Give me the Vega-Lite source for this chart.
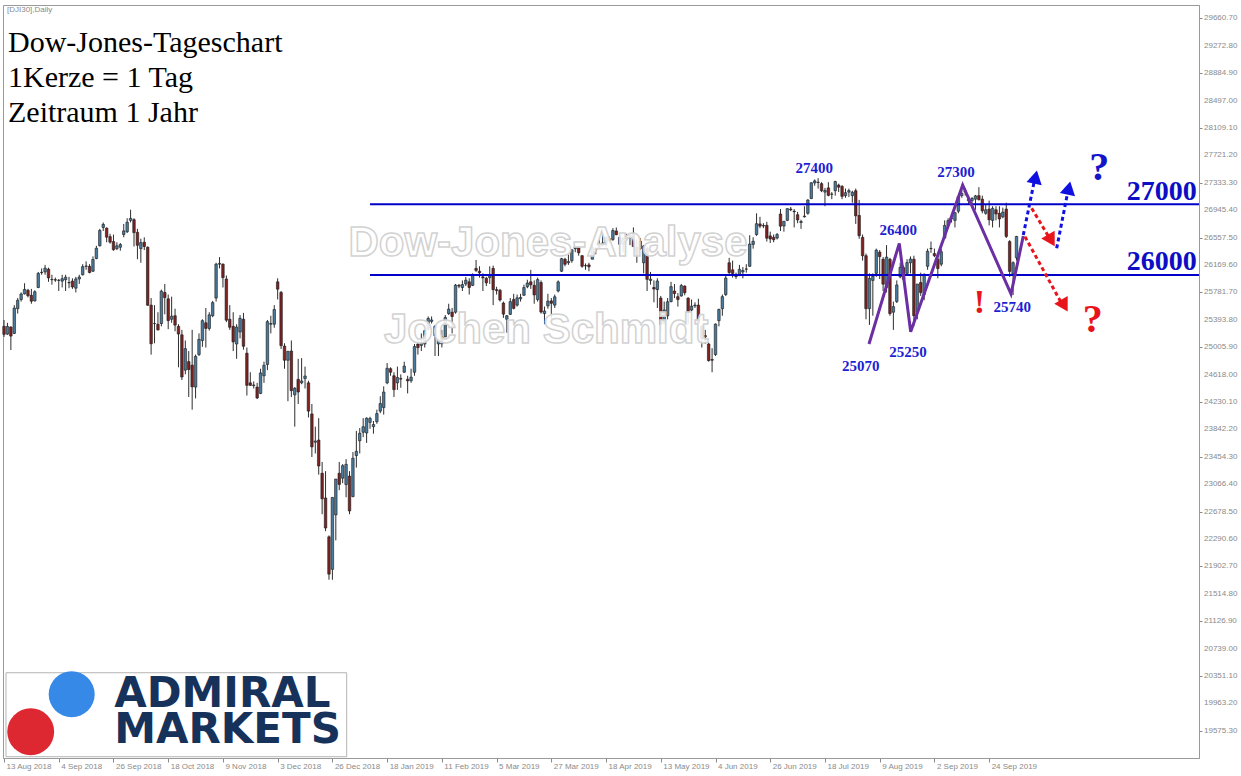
{
"$schema":"https://vega.github.io/schema/vega-lite/v6.json",
"width":1196,"height":753,
"autosize":{"type":"none"},
"padding":{"left":3,"top":5,"right":42,"bottom":18},
"background":"white",
"config":{"view":{"stroke":"#9a9a9a"},"axisX":{"labelOverlap":false},"scale":{"continuousPadding":0}},
"datasets":{
"candles":[
{"i":0,"o":25300,"h":25390,"l":25150,"c":25187},{"i":1,"o":25190,"h":25350,"l":25180,"c":25299},{"i":2,"o":25290,"h":25300,"l":24965,"c":25162},{"i":3,"o":25200,"h":25600,"l":25190,"c":25558},{"i":4,"o":25550,"h":25700,"l":25480,"c":25669},{"i":5,"o":25680,"h":25780,"l":25650,"c":25758},{"i":6,"o":25760,"h":25910,"l":25750,"c":25822},{"i":7,"o":25810,"h":25830,"l":25710,"c":25733},{"i":8,"o":25740,"h":25830,"l":25620,"c":25656},{"i":9,"o":25660,"h":25810,"l":25650,"c":25790},
{"i":10,"o":25850,"h":26070,"l":25840,"c":26049},{"i":11,"o":26060,"h":26120,"l":26030,"c":26064},{"i":12,"o":26070,"h":26170,"l":26030,"c":26124},{"i":13,"o":26110,"h":26130,"l":25930,"c":25986},{"i":14,"o":25960,"h":26030,"l":25890,"c":25964},{"i":15,"o":25960,"h":25990,"l":25930,"c":25955},{"i":16,"o":25950,"h":25970,"l":25800,"c":25952},{"i":17,"o":25940,"h":26030,"l":25850,"c":25974},{"i":18,"o":25960,"h":26030,"l":25800,"c":25995},{"i":19,"o":25920,"h":26000,"l":25840,"c":25916},
{"i":20,"o":25940,"h":25980,"l":25830,"c":25857},{"i":21,"o":25840,"h":26000,"l":25780,"c":25971},{"i":22,"o":25970,"h":26030,"l":25900,"c":25998},{"i":23,"o":26030,"h":26180,"l":26020,"c":26145},{"i":24,"o":26150,"h":26220,"l":26100,"c":26154},{"i":25,"o":26150,"h":26180,"l":26050,"c":26062},{"i":26,"o":26080,"h":26290,"l":26070,"c":26246},{"i":27,"o":26260,"h":26440,"l":26250,"c":26405},{"i":28,"o":26440,"h":26680,"l":26430,"c":26657},{"i":29,"o":26700,"h":26770,"l":26650,"c":26743},
{"i":30,"o":26690,"h":26700,"l":26490,"c":26562},{"i":31,"o":26570,"h":26610,"l":26470,"c":26492},{"i":32,"o":26500,"h":26600,"l":26370,"c":26385},{"i":33,"o":26400,"h":26490,"l":26380,"c":26440},{"i":34,"o":26420,"h":26480,"l":26370,"c":26458},{"i":35,"o":26600,"h":26750,"l":26560,"c":26651},{"i":36,"o":26640,"h":26830,"l":26620,"c":26774},{"i":37,"o":26800,"h":26951,"l":26770,"c":26828},{"i":38,"o":26810,"h":26830,"l":26430,"c":26627},{"i":39,"o":26630,"h":26680,"l":26250,"c":26447},
{"i":40,"o":26400,"h":26540,"l":26200,"c":26486},{"i":41,"o":26490,"h":26560,"l":26380,"c":26430},{"i":42,"o":26420,"h":26430,"l":25590,"c":25599},{"i":43,"o":25600,"h":25700,"l":24899,"c":25053},{"i":44,"o":25340,"h":25600,"l":25060,"c":25340},{"i":45,"o":25330,"h":25500,"l":25240,"c":25250},{"i":46,"o":25340,"h":25820,"l":25300,"c":25798},{"i":47,"o":25780,"h":25900,"l":25470,"c":25706},{"i":48,"o":25690,"h":25750,"l":25260,"c":25380},{"i":49,"o":25400,"h":25720,"l":25350,"c":25444},
{"i":50,"o":25450,"h":25550,"l":25230,"c":25317},{"i":51,"o":25300,"h":25330,"l":24720,"c":25191},{"i":52,"o":25180,"h":25250,"l":24540,"c":24583},{"i":53,"o":24680,"h":25100,"l":24620,"c":24984},{"i":54,"o":24800,"h":24950,"l":24300,"c":24688},{"i":55,"o":24750,"h":25250,"l":24120,"c":24443},{"i":56,"o":24440,"h":24900,"l":24280,"c":24875},{"i":57,"o":24900,"h":25200,"l":24880,"c":25116},{"i":58,"o":25100,"h":25400,"l":25010,"c":25380},{"i":59,"o":25350,"h":25560,"l":25000,"c":25271},
{"i":60,"o":25270,"h":25500,"l":25240,"c":25462},{"i":61,"o":25450,"h":25660,"l":25430,"c":25636},{"i":62,"o":25700,"h":26200,"l":25650,"c":26180},{"i":63,"o":26180,"h":26280,"l":26120,"c":26191},{"i":64,"o":26180,"h":26190,"l":25850,"c":25989},{"i":65,"o":25970,"h":26020,"l":25360,"c":25387},{"i":66,"o":25400,"h":25600,"l":25250,"c":25287},{"i":67,"o":25300,"h":25500,"l":24950,"c":25080},{"i":68,"o":25050,"h":25330,"l":24840,"c":25290},{"i":69,"o":25220,"h":25460,"l":25130,"c":25414},
{"i":70,"o":25400,"h":25490,"l":24970,"c":25018},{"i":71,"o":24920,"h":25000,"l":24320,"c":24465},{"i":72,"o":24500,"h":24650,"l":24460,"c":24464},{"i":73,"o":24460,"h":24520,"l":24420,"c":24470},{"i":74,"o":24440,"h":24500,"l":24270,"c":24286},{"i":75,"o":24350,"h":24700,"l":24340,"c":24640},{"i":76,"o":24600,"h":24800,"l":24500,"c":24749},{"i":77,"o":24760,"h":25390,"l":24680,"c":25366},{"i":78,"o":25330,"h":25450,"l":25200,"c":25339},{"i":79,"o":25330,"h":25600,"l":25280,"c":25538},
{"i":80,"o":25930,"h":25980,"l":25680,"c":25826},{"i":81,"o":25780,"h":25800,"l":24980,"c":25027},{"i":82,"o":25020,"h":25060,"l":24700,"c":24820},{"i":83,"o":24820,"h":24950,"l":24240,"c":24947},{"i":84,"o":24950,"h":25100,"l":24300,"c":24389},{"i":85,"o":24330,"h":24440,"l":23880,"c":24423},{"i":86,"o":24550,"h":24840,"l":24200,"c":24370},{"i":87,"o":24500,"h":24850,"l":24480,"c":24527},{"i":88,"o":24560,"h":24730,"l":24420,"c":24597},{"i":89,"o":24500,"h":24530,"l":24010,"c":24100},
{"i":90,"o":24060,"h":24200,"l":23450,"c":23593},{"i":91,"o":23660,"h":23880,"l":23500,"c":23676},{"i":92,"o":23690,"h":24000,"l":23200,"c":23323},{"i":93,"o":23220,"h":23380,"l":22640,"c":22859},{"i":94,"o":22870,"h":23250,"l":22400,"c":22445},{"i":95,"o":22320,"h":22340,"l":21713,"c":21792},{"i":96,"o":21860,"h":22880,"l":21712,"c":22878},{"i":97,"o":22630,"h":23140,"l":22270,"c":23138},{"i":98,"o":23220,"h":23380,"l":22980,"c":23062},{"i":99,"o":23150,"h":23350,"l":23080,"c":23327},
{"i":100,"o":23060,"h":23420,"l":22880,"c":23346},{"i":101,"o":23180,"h":23250,"l":22640,"c":22686},{"i":102,"o":22890,"h":23520,"l":22880,"c":23433},{"i":103,"o":23470,"h":23820,"l":23300,"c":23531},{"i":104,"o":23680,"h":23860,"l":23500,"c":23787},{"i":105,"o":23800,"h":24000,"l":23730,"c":23879},{"i":106,"o":23790,"h":24010,"l":23650,"c":24001},{"i":107,"o":23940,"h":24020,"l":23850,"c":23996},{"i":108,"o":23880,"h":23960,"l":23780,"c":23910},{"i":109,"o":23950,"h":24120,"l":23920,"c":24065},
{"i":110,"o":24100,"h":24310,"l":24070,"c":24207},{"i":111,"o":24150,"h":24450,"l":24050,"c":24370},{"i":112,"o":24500,"h":24780,"l":24480,"c":24706},{"i":113,"o":24700,"h":24720,"l":24600,"c":24650},{"i":114,"o":24600,"h":24650,"l":24300,"c":24404},{"i":115,"o":24500,"h":24730,"l":24400,"c":24575},{"i":116,"o":24560,"h":24620,"l":24430,"c":24553},{"i":117,"o":24650,"h":24800,"l":24640,"c":24737},{"i":118,"o":24550,"h":24600,"l":24350,"c":24528},{"i":119,"o":24530,"h":24700,"l":24500,"c":24580},
{"i":120,"o":24650,"h":25050,"l":24600,"c":25014},{"i":121,"o":25050,"h":25120,"l":24900,"c":24999},{"i":122,"o":25030,"h":25200,"l":24950,"c":25064},{"i":123,"o":25050,"h":25250,"l":25000,"c":25239},{"i":124,"o":25260,"h":25440,"l":25240,"c":25411},{"i":125,"o":25370,"h":25440,"l":25340,"c":25390},{"i":126,"o":25300,"h":25320,"l":24880,"c":25169},{"i":127,"o":25050,"h":25120,"l":24880,"c":25106},{"i":128,"o":25150,"h":25250,"l":25000,"c":25053},{"i":129,"o":25150,"h":25460,"l":25150,"c":25425},
{"i":130,"o":25480,"h":25620,"l":25460,"c":25543},{"i":131,"o":25500,"h":25560,"l":25200,"c":25439},{"i":132,"o":25500,"h":25900,"l":25480,"c":25883},{"i":133,"o":25880,"h":25900,"l":25840,"c":25870},{"i":134,"o":25850,"h":25950,"l":25800,"c":25891},{"i":135,"o":25900,"h":26000,"l":25870,"c":25954},{"i":136,"o":25930,"h":25980,"l":25750,"c":25850},{"i":137,"o":25880,"h":26050,"l":25870,"c":26031},{"i":138,"o":26120,"h":26240,"l":26070,"c":26092},{"i":139,"o":26080,"h":26150,"l":25990,"c":26057},
{"i":140,"o":26000,"h":26050,"l":25800,"c":25986},{"i":141,"o":25980,"h":26000,"l":25870,"c":25916},{"i":142,"o":25990,"h":26150,"l":25900,"c":26026},{"i":143,"o":26120,"h":26160,"l":25600,"c":25819},{"i":144,"o":25820,"h":25860,"l":25750,"c":25806},{"i":145,"o":25810,"h":25830,"l":25650,"c":25673},{"i":146,"o":25630,"h":25650,"l":25420,"c":25473},{"i":147,"o":25400,"h":25460,"l":25210,"c":25450},{"i":148,"o":25470,"h":25700,"l":25460,"c":25650},{"i":149,"o":25680,"h":25760,"l":25540,"c":25554},
{"i":150,"o":25600,"h":25750,"l":25580,"c":25703},{"i":151,"o":25690,"h":25760,"l":25650,"c":25709},{"i":152,"o":25740,"h":25890,"l":25730,"c":25849},{"i":153,"o":25860,"h":25960,"l":25840,"c":25914},{"i":154,"o":25930,"h":26100,"l":25830,"c":25887},{"i":155,"o":25880,"h":25950,"l":25620,"c":25745},{"i":156,"o":25680,"h":25990,"l":25650,"c":25962},{"i":157,"o":25920,"h":25950,"l":25480,"c":25502},{"i":158,"o":25480,"h":25580,"l":25330,"c":25516},{"i":159,"o":25590,"h":25760,"l":25550,"c":25657},
{"i":160,"o":25660,"h":25700,"l":25400,"c":25626},{"i":161,"o":25600,"h":25750,"l":25560,"c":25718},{"i":162,"o":25800,"h":25950,"l":25780,"c":25929},{"i":163,"o":26080,"h":26270,"l":26070,"c":26258},{"i":164,"o":26250,"h":26270,"l":26150,"c":26179},{"i":165,"o":26200,"h":26320,"l":26170,"c":26218},{"i":166,"o":26230,"h":26390,"l":26200,"c":26385},{"i":167,"o":26400,"h":26440,"l":26350,"c":26425},{"i":168,"o":26410,"h":26430,"l":26300,"c":26341},{"i":169,"o":26300,"h":26310,"l":26130,"c":26150},
{"i":170,"o":26160,"h":26190,"l":26100,"c":26157},{"i":171,"o":26170,"h":26200,"l":26080,"c":26143},{"i":172,"o":26250,"h":26460,"l":26250,"c":26412},{"i":173,"o":26400,"h":26420,"l":26320,"c":26384},{"i":174,"o":26420,"h":26530,"l":26400,"c":26453},{"i":175,"o":26480,"h":26600,"l":26430,"c":26449},{"i":176,"o":26480,"h":26580,"l":26420,"c":26559},{"i":177,"o":26540,"h":26570,"l":26480,"c":26511},{"i":178,"o":26530,"h":26690,"l":26510,"c":26656},{"i":179,"o":26650,"h":26700,"l":26590,"c":26597},
{"i":180,"o":26560,"h":26570,"l":26300,"c":26462},{"i":181,"o":26460,"h":26560,"l":26350,"c":26543},{"i":182,"o":26560,"h":26610,"l":26520,"c":26554},{"i":183,"o":26550,"h":26620,"l":26450,"c":26593},{"i":184,"o":26620,"h":26700,"l":26420,"c":26430},{"i":185,"o":26420,"h":26530,"l":26200,"c":26308},{"i":186,"o":26400,"h":26550,"l":26380,"c":26505},{"i":187,"o":26200,"h":26450,"l":26050,"c":26438},{"i":188,"o":26400,"h":26430,"l":25800,"c":25965},{"i":189,"o":25950,"h":26070,"l":25890,"c":25968},
{"i":190,"o":25850,"h":25950,"l":25640,"c":25828},{"i":191,"o":25820,"h":25980,"l":25560,"c":25942},{"i":192,"o":25700,"h":25730,"l":25220,"c":25325},{"i":193,"o":25350,"h":25650,"l":25330,"c":25532},{"i":194,"o":25450,"h":25700,"l":25400,"c":25648},{"i":195,"o":25650,"h":25930,"l":25640,"c":25862},{"i":196,"o":25800,"h":25900,"l":25700,"c":25764},{"i":197,"o":25720,"h":25770,"l":25580,"c":25680},{"i":198,"o":25730,"h":25900,"l":25720,"c":25877},{"i":199,"o":25870,"h":25880,"l":25740,"c":25776},
{"i":200,"o":25700,"h":25710,"l":25330,"c":25490},{"i":201,"o":25530,"h":25680,"l":25510,"c":25586},{"i":202,"o":25590,"h":25640,"l":25560,"c":25600},{"i":203,"o":25600,"h":25690,"l":25340,"c":25347},{"i":204,"o":25300,"h":25320,"l":25000,"c":25126},{"i":205,"o":25150,"h":25250,"l":25050,"c":25169},{"i":206,"o":25050,"h":25070,"l":24800,"c":24815},{"i":207,"o":24830,"h":24990,"l":24650,"c":24820},{"i":208,"o":24900,"h":25340,"l":24880,"c":25332},{"i":209,"o":25380,"h":25550,"l":25300,"c":25539},
{"i":210,"o":25550,"h":25750,"l":25450,"c":25720},{"i":211,"o":25750,"h":26030,"l":25730,"c":25984},{"i":212,"o":26200,"h":26270,"l":26040,"c":26062},{"i":213,"o":26100,"h":26230,"l":25990,"c":26048},{"i":214,"o":26030,"h":26060,"l":25970,"c":26005},{"i":215,"o":26030,"h":26170,"l":26010,"c":26107},{"i":216,"o":26070,"h":26140,"l":25980,"c":26090},{"i":217,"o":26110,"h":26180,"l":26060,"c":26112},{"i":218,"o":26150,"h":26590,"l":26140,"c":26465},{"i":219,"o":26460,"h":26560,"l":26400,"c":26504},
{"i":220,"o":26600,"h":26900,"l":26580,"c":26753},{"i":221,"o":26750,"h":26850,"l":26690,"c":26719},{"i":222,"o":26720,"h":26760,"l":26690,"c":26727},{"i":223,"o":26730,"h":26780,"l":26500,"c":26548},{"i":224,"o":26580,"h":26640,"l":26480,"c":26536},{"i":225,"o":26560,"h":26600,"l":26490,"c":26526},{"i":226,"o":26550,"h":26620,"l":26530,"c":26600},{"i":227,"o":26890,"h":26960,"l":26650,"c":26718},{"i":228,"o":26720,"h":26790,"l":26640,"c":26787},{"i":229,"o":26800,"h":26970,"l":26790,"c":26966},
{"i":230,"o":26960,"h":26990,"l":26930,"c":26950},{"i":231,"o":26930,"h":26960,"l":26700,"c":26922},{"i":232,"o":26880,"h":26920,"l":26760,"c":26806},{"i":233,"o":26770,"h":26810,"l":26680,"c":26784},{"i":234,"o":26850,"h":27000,"l":26840,"c":26860},{"i":235,"o":26900,"h":27100,"l":26880,"c":27088},{"i":236,"o":27110,"h":27340,"l":27100,"c":27332},{"i":237,"o":27330,"h":27380,"l":27290,"c":27359},{"i":238,"o":27340,"h":27398,"l":27250,"c":27336},{"i":239,"o":27320,"h":27340,"l":27200,"c":27220},
{"i":240,"o":27200,"h":27260,"l":27000,"c":27223},{"i":241,"o":27260,"h":27340,"l":27140,"c":27154},{"i":242,"o":27170,"h":27200,"l":27100,"c":27172},{"i":243,"o":27220,"h":27360,"l":27150,"c":27350},{"i":244,"o":27300,"h":27320,"l":27200,"c":27270},{"i":245,"o":27280,"h":27300,"l":27100,"c":27140},{"i":246,"o":27150,"h":27250,"l":27120,"c":27192},{"i":247,"o":27200,"h":27250,"l":27130,"c":27221},{"i":248,"o":27150,"h":27220,"l":27050,"c":27198},{"i":249,"o":27220,"h":27250,"l":26750,"c":26864},
{"i":250,"o":26870,"h":27090,"l":26540,"c":26583},{"i":251,"o":26560,"h":26600,"l":26230,"c":26300},{"i":252,"o":26300,"h":26330,"l":25400,"c":25550},{"i":253,"o":25550,"h":26050,"l":25320,"c":25980},{"i":254,"o":25950,"h":26050,"l":25450,"c":26008},{"i":255,"o":26050,"h":26400,"l":26000,"c":26379},{"i":256,"o":26350,"h":26380,"l":25970,"c":26287},{"i":257,"o":26250,"h":26280,"l":25800,"c":25897},{"i":258,"o":25850,"h":26450,"l":25780,"c":26280},{"i":259,"o":26250,"h":26270,"l":25450,"c":25480},
{"i":260,"o":25500,"h":25650,"l":25250,"c":25579},{"i":261,"o":25650,"h":25950,"l":25630,"c":25886},{"i":262,"o":26000,"h":26200,"l":25980,"c":26136},{"i":263,"o":26130,"h":26160,"l":25950,"c":25962},{"i":264,"o":26050,"h":26250,"l":26030,"c":26202},{"i":265,"o":26200,"h":26290,"l":26050,"c":26253},{"i":266,"o":26250,"h":26300,"l":25300,"c":25450},{"i":267,"o":25500,"h":25900,"l":25400,"c":25899},{"i":268,"o":25920,"h":26060,"l":25730,"c":25778},{"i":269,"o":25750,"h":26050,"l":25670,"c":26036},
{"i":270,"o":26150,"h":26400,"l":26100,"c":26363},{"i":271,"o":26400,"h":26500,"l":26340,"c":26403},{"i":272,"o":26330,"h":26400,"l":26280,"c":26300},{"i":273,"o":26250,"h":26300,"l":25980,"c":26118},{"i":274,"o":26180,"h":26400,"l":26150,"c":26356},{"i":275,"o":26550,"h":26800,"l":26540,"c":26728},{"i":276,"o":26730,"h":26830,"l":26700,"c":26797},{"i":277,"o":26820,"h":26900,"l":26770,"c":26835},{"i":278,"o":26800,"h":26920,"l":26700,"c":26909},{"i":279,"o":26930,"h":27140,"l":26900,"c":27137},
{"i":280,"o":27150,"h":27306,"l":27120,"c":27182},{"i":281,"o":27200,"h":27250,"l":27150,"c":27220},{"i":282,"o":27100,"h":27150,"l":27020,"c":27076},{"i":283,"o":27080,"h":27130,"l":27000,"c":27111},{"i":284,"o":27100,"h":27160,"l":26950,"c":27147},{"i":285,"o":27150,"h":27270,"l":27080,"c":27094},{"i":286,"o":27100,"h":27150,"l":26900,"c":26935},{"i":287,"o":26900,"h":27030,"l":26880,"c":26950},{"i":288,"o":26960,"h":27080,"l":26730,"c":26808},{"i":289,"o":26800,"h":27000,"l":26700,"c":26970},
{"i":290,"o":26950,"h":27000,"l":26800,"c":26891},{"i":291,"o":26900,"h":27000,"l":26700,"c":26820},{"i":292,"o":26850,"h":26980,"l":26830,"c":26917},{"i":293,"o":26960,"h":27050,"l":26550,"c":26573},{"i":294,"o":26500,"h":26520,"l":26000,"c":26078},{"i":295,"o":26040,"h":26220,"l":25743,"c":26201},{"i":296,"o":26270,"h":26580,"l":26230,"c":26573}
],
"yLabels":[{"i":349.35,"v":19575.3},{"i":349.35,"v":19963.2},{"i":349.35,"v":20351.1},{"i":349.35,"v":20739.0},{"i":349.35,"v":21126.9},{"i":349.35,"v":21514.8},{"i":349.35,"v":21902.7},{"i":349.35,"v":22290.6},{"i":349.35,"v":22678.5},{"i":349.35,"v":23066.4},{"i":349.35,"v":23454.3},{"i":349.35,"v":23842.2},{"i":349.35,"v":24230.1},{"i":349.35,"v":24618.0},{"i":349.35,"v":25005.9},{"i":349.35,"v":25393.8},{"i":349.35,"v":25781.7},{"i":349.35,"v":26169.6},{"i":349.35,"v":26557.5},{"i":349.35,"v":26945.4},{"i":349.35,"v":27333.3},{"i":349.35,"v":27721.2},{"i":349.35,"v":28109.1},{"i":349.35,"v":28497.0},{"i":349.35,"v":28884.9},{"i":349.35,"v":29272.8},{"i":349.35,"v":29660.7}],
"levels":[{"i":107,"i2":349.35,"v":27027},{"i":107,"i2":349.35,"v":26027}],
"zigzag":[{"i":252.87,"v":25050},{"i":261.73,"v":26475},{"i":265.06,"v":25224},{"i":280.26,"v":27301},{"i":294.39,"v":25758},{"i":297.98,"v":26579}],
"blueArrows":[{"id":1,"i":297.98,"v":26593},{"id":1,"i":301.3,"v":27380},{"id":2,"i":307.74,"v":26405},{"id":2,"i":311.1,"v":27230}],
"redArrows":[{"id":1,"i":300.44,"v":26971},{"id":1,"i":305.5,"v":26560},{"id":2,"i":298.48,"v":26569},{"id":2,"i":308.9,"v":25650}],
"blueHeads":[{"i":301.56,"v":27414},{"i":311.3,"v":27258}],
"redHeads":[{"i":305.2,"v":26545},{"i":309.0,"v":25620}],
"ann":[{"i":236.88,"v":27537,"t":"27400"},{"i":261.44,"v":26664,"t":"26400"},{"i":250.45,"v":24743,"t":"25070"},{"i":264.27,"v":24937,"t":"25250"},{"i":278.31,"v":27481,"t":"27300"},{"i":294.77,"v":25578,"t":"25740"}],
"levelText":[{"i":348.7,"v":27195,"t":"27000"},{"i":348.7,"v":26215,"t":"26000"}],
"excl":[{"i":285.12,"v":25626,"t":"!"}],
"blueQ":[{"i":320.2,"v":27537,"t":"?"}],
"redQ":[{"i":318.27,"v":25390,"t":"?"}],
"wm":[{"i":159.03,"v":26480,"t":"Dow-Jones-Analyse"},{"i":158.5,"v":25248,"t":"Jochen Schmidt"}],
"title":[{"i":1.16,"v":29188,"t":"Dow-Jones-Tageschart"},{"i":1.16,"v":28688,"t":"1Kerze = 1 Tag"},{"i":1.16,"v":28197,"t":"Zeitraum 1 Jahr"}],
"sym":[{"i":0.87,"v":29778,"t":"[DJI30],Daily"}],
"logoBox":[{"i":0.577,"i2":100.18,"v":20396,"v2":19207}],
"logoBlue":[{"i":19.78,"v":20091}],
"logoRed":[{"i":7.8,"v":19561}],
"logoText":[{"i":32.2,"v":19915,"t":["ADMIRAL","MARKETS"]}]
},
"layer":[
{"data":{"name":"candles"},"mark":{"type":"rule","color":"#2e2e2e","strokeWidth":1},
 "encoding":{
  "x":{"field":"i","type":"quantitative","scale":{"domain":[-0.3,349.35],"nice":false,"zero":false,"padding":0},
   "axis":{"title":null,"grid":false,"values":[0,16,32,48,64,80,96,112,128,144,160,176,192,208,224,240,256,272,288],
    "labelExpr":"['13 Aug 2018','4 Sep 2018','26 Sep 2018','18 Oct 2018','9 Nov 2018','3 Dec 2018','26 Dec 2018','18 Jan 2019','11 Feb 2019','5 Mar 2019','27 Mar 2019','18 Apr 2019','13 May 2019','4 Jun 2019','26 Jun 2019','18 Jul 2019','9 Aug 2019','2 Sep 2019','24 Sep 2019'][round(datum.value/16)]",
    "labelAlign":"left","labelOffset":2,"labelBaseline":"top","labelPadding":0,"labelFont":"Liberation Sans","labelFontSize":8,"labelColor":"#8a8a8a","tickColor":"#8a8a8a","domainColor":"#9a9a9a","tickSize":4,"labelFlush":false,"labelOverlap":false}},
  "y":{"field":"l","type":"quantitative","scale":{"domain":[19189,29849],"nice":false,"zero":false,"padding":0},
   "axis":{"title":null,"orient":"right","grid":false,"labels":false,"values":[19575.3,19963.2,20351.1,20739.0,21126.9,21514.8,21902.7,22290.6,22678.5,23066.4,23454.3,23842.2,24230.1,24618.0,25005.9,25393.8,25781.7,26169.6,26557.5,26945.4,27333.3,27721.2,28109.1,28497.0,28884.9,29272.8,29660.7],
    "tickColor":"#8a8a8a","domainColor":"#9a9a9a","tickSize":3}},
  "y2":{"field":"h"}}},
{"data":{"name":"candles"},"mark":{"type":"bar","size":2.5,"stroke":"#1a1a1a","strokeWidth":0.6},
 "encoding":{
  "x":{"field":"i","type":"quantitative","title":null,"scale":{"domain":[-0.3,349.35],"nice":false,"zero":false,"padding":0}},
  "y":{"field":"o","type":"quantitative","title":null,"scale":{"domain":[19189,29849],"nice":false,"zero":false,"padding":0}},
  "y2":{"field":"c"},
  "color":{"condition":{"test":"datum.c >= datum.o","value":"#4a7b9d"},"value":"#7e2222"}}},
{"data":{"name":"yLabels"},"mark":{"type":"text","font":"Liberation Sans","fontSize":8,"color":"#8a8a8a","align":"left","baseline":"middle","dx":5},
 "encoding":{"x":{"field":"i","type":"quantitative","title":null,"scale":{"domain":[-0.3,349.35],"nice":false,"zero":false,"padding":0}},"y":{"field":"v","type":"quantitative","title":null,"scale":{"domain":[19189,29849],"nice":false,"zero":false,"padding":0}},"text":{"field":"v","type":"quantitative","format":".2f"}}},
{"data":{"name":"wm"},"mark":{"type":"text","font":"Liberation Sans","fontWeight":"bold","fontSize":42,"fill":"#ffffff","fillOpacity":0.9,"stroke":"#d2d2d2","strokeWidth":1.5,"align":"center","baseline":"middle"},
 "encoding":{"x":{"field":"i","type":"quantitative","title":null,"scale":{"domain":[-0.3,349.35],"nice":false,"zero":false,"padding":0}},"y":{"field":"v","type":"quantitative","title":null,"scale":{"domain":[19189,29849],"nice":false,"zero":false,"padding":0}},"text":{"field":"t"}}},
{"data":{"name":"levels"},"mark":{"type":"rule","color":"#0000c8","strokeWidth":2},
 "encoding":{"x":{"field":"i","type":"quantitative","title":null,"scale":{"domain":[-0.3,349.35],"nice":false,"zero":false,"padding":0}},"x2":{"field":"i2"},"y":{"field":"v","type":"quantitative","title":null,"scale":{"domain":[19189,29849],"nice":false,"zero":false,"padding":0}}}},
{"data":{"name":"zigzag"},"mark":{"type":"line","color":"#6b2fa3","strokeWidth":3},
 "encoding":{"x":{"field":"i","type":"quantitative","title":null,"scale":{"domain":[-0.3,349.35],"nice":false,"zero":false,"padding":0}},"y":{"field":"v","type":"quantitative","title":null,"scale":{"domain":[19189,29849],"nice":false,"zero":false,"padding":0}}}},
{"data":{"name":"blueArrows"},"mark":{"type":"line","color":"#1010e0","strokeWidth":3,"strokeDash":[4,3]},
 "encoding":{"x":{"field":"i","type":"quantitative","title":null,"scale":{"domain":[-0.3,349.35],"nice":false,"zero":false,"padding":0}},"y":{"field":"v","type":"quantitative","title":null,"scale":{"domain":[19189,29849],"nice":false,"zero":false,"padding":0}},"detail":{"field":"id"}}},
{"data":{"name":"redArrows"},"mark":{"type":"line","color":"#e8141b","strokeWidth":3,"strokeDash":[4,3]},
 "encoding":{"x":{"field":"i","type":"quantitative","title":null,"scale":{"domain":[-0.3,349.35],"nice":false,"zero":false,"padding":0}},"y":{"field":"v","type":"quantitative","title":null,"scale":{"domain":[19189,29849],"nice":false,"zero":false,"padding":0}},"detail":{"field":"id"}}},
{"data":{"name":"blueHeads"},"mark":{"type":"point","shape":"triangle-up","filled":true,"opacity":1,"size":240,"color":"#1010e0","angle":12},
 "encoding":{"x":{"field":"i","type":"quantitative","title":null,"scale":{"domain":[-0.3,349.35],"nice":false,"zero":false,"padding":0}},"y":{"field":"v","type":"quantitative","title":null,"scale":{"domain":[19189,29849],"nice":false,"zero":false,"padding":0}}}},
{"data":{"name":"redHeads"},"mark":{"type":"point","shape":"triangle-left","filled":true,"opacity":1,"size":240,"color":"#e8141b"},
 "encoding":{"x":{"field":"i","type":"quantitative","title":null,"scale":{"domain":[-0.3,349.35],"nice":false,"zero":false,"padding":0}},"y":{"field":"v","type":"quantitative","title":null,"scale":{"domain":[19189,29849],"nice":false,"zero":false,"padding":0}}}},
{"data":{"name":"ann"},"mark":{"type":"text","font":"Liberation Serif","fontWeight":"bold","fontSize":15,"color":"#1e1ed2","align":"center","baseline":"middle"},
 "encoding":{"x":{"field":"i","type":"quantitative","title":null,"scale":{"domain":[-0.3,349.35],"nice":false,"zero":false,"padding":0}},"y":{"field":"v","type":"quantitative","title":null,"scale":{"domain":[19189,29849],"nice":false,"zero":false,"padding":0}},"text":{"field":"t"}}},
{"data":{"name":"levelText"},"mark":{"type":"text","font":"Liberation Serif","fontWeight":"bold","fontSize":28,"color":"#0d0dc6","align":"right","baseline":"middle"},
 "encoding":{"x":{"field":"i","type":"quantitative","title":null,"scale":{"domain":[-0.3,349.35],"nice":false,"zero":false,"padding":0}},"y":{"field":"v","type":"quantitative","title":null,"scale":{"domain":[19189,29849],"nice":false,"zero":false,"padding":0}},"text":{"field":"t"}}},
{"data":{"name":"excl"},"mark":{"type":"text","font":"Liberation Serif","fontWeight":"bold","fontSize":34,"color":"#e8141b","align":"center","baseline":"middle"},
 "encoding":{"x":{"field":"i","type":"quantitative","title":null,"scale":{"domain":[-0.3,349.35],"nice":false,"zero":false,"padding":0}},"y":{"field":"v","type":"quantitative","title":null,"scale":{"domain":[19189,29849],"nice":false,"zero":false,"padding":0}},"text":{"field":"t"}}},
{"data":{"name":"blueQ"},"mark":{"type":"text","font":"Liberation Serif","fontWeight":"bold","fontSize":40,"color":"#1414c8","align":"center","baseline":"middle"},
 "encoding":{"x":{"field":"i","type":"quantitative","title":null,"scale":{"domain":[-0.3,349.35],"nice":false,"zero":false,"padding":0}},"y":{"field":"v","type":"quantitative","title":null,"scale":{"domain":[19189,29849],"nice":false,"zero":false,"padding":0}},"text":{"field":"t"}}},
{"data":{"name":"redQ"},"mark":{"type":"text","font":"Liberation Serif","fontWeight":"bold","fontSize":40,"color":"#e8141b","align":"center","baseline":"middle"},
 "encoding":{"x":{"field":"i","type":"quantitative","title":null,"scale":{"domain":[-0.3,349.35],"nice":false,"zero":false,"padding":0}},"y":{"field":"v","type":"quantitative","title":null,"scale":{"domain":[19189,29849],"nice":false,"zero":false,"padding":0}},"text":{"field":"t"}}},
{"data":{"name":"title"},"mark":{"type":"text","font":"Liberation Serif","fontSize":30,"color":"#000000","align":"left","baseline":"alphabetic"},
 "encoding":{"x":{"field":"i","type":"quantitative","title":null,"scale":{"domain":[-0.3,349.35],"nice":false,"zero":false,"padding":0}},"y":{"field":"v","type":"quantitative","title":null,"scale":{"domain":[19189,29849],"nice":false,"zero":false,"padding":0}},"text":{"field":"t"}}},
{"data":{"name":"sym"},"mark":{"type":"text","font":"Liberation Sans","fontSize":8,"color":"#8a8a8a","align":"left","baseline":"middle"},
 "encoding":{"x":{"field":"i","type":"quantitative","title":null,"scale":{"domain":[-0.3,349.35],"nice":false,"zero":false,"padding":0}},"y":{"field":"v","type":"quantitative","title":null,"scale":{"domain":[19189,29849],"nice":false,"zero":false,"padding":0}},"text":{"field":"t"}}},
{"data":{"name":"logoBox"},"mark":{"type":"rect","fill":"#ffffff","stroke":"#b4b4b4","strokeWidth":1},
 "encoding":{"x":{"field":"i","type":"quantitative","title":null,"scale":{"domain":[-0.3,349.35],"nice":false,"zero":false,"padding":0}},"x2":{"field":"i2"},"y":{"field":"v","type":"quantitative","title":null,"scale":{"domain":[19189,29849],"nice":false,"zero":false,"padding":0}},"y2":{"field":"v2"}}},
{"data":{"name":"logoBlue"},"mark":{"type":"point","shape":"circle","filled":true,"opacity":1,"size":2116,"color":"#3689e6"},
 "encoding":{"x":{"field":"i","type":"quantitative","title":null,"scale":{"domain":[-0.3,349.35],"nice":false,"zero":false,"padding":0}},"y":{"field":"v","type":"quantitative","title":null,"scale":{"domain":[19189,29849],"nice":false,"zero":false,"padding":0}}}},
{"data":{"name":"logoRed"},"mark":{"type":"point","shape":"circle","filled":true,"opacity":1,"size":2200,"color":"#de2831"},
 "encoding":{"x":{"field":"i","type":"quantitative","title":null,"scale":{"domain":[-0.3,349.35],"nice":false,"zero":false,"padding":0}},"y":{"field":"v","type":"quantitative","title":null,"scale":{"domain":[19189,29849],"nice":false,"zero":false,"padding":0}}}},
{"data":{"name":"logoText"},"mark":{"type":"text","font":"DejaVu Sans","fontWeight":"bold","fontSize":42,"lineHeight":36,"color":"#17325a","align":"left","baseline":"alphabetic"},
 "encoding":{"x":{"field":"i","type":"quantitative","title":null,"scale":{"domain":[-0.3,349.35],"nice":false,"zero":false,"padding":0}},"y":{"field":"v","type":"quantitative","title":null,"scale":{"domain":[19189,29849],"nice":false,"zero":false,"padding":0}},"text":{"field":"t"}}}
]
}
